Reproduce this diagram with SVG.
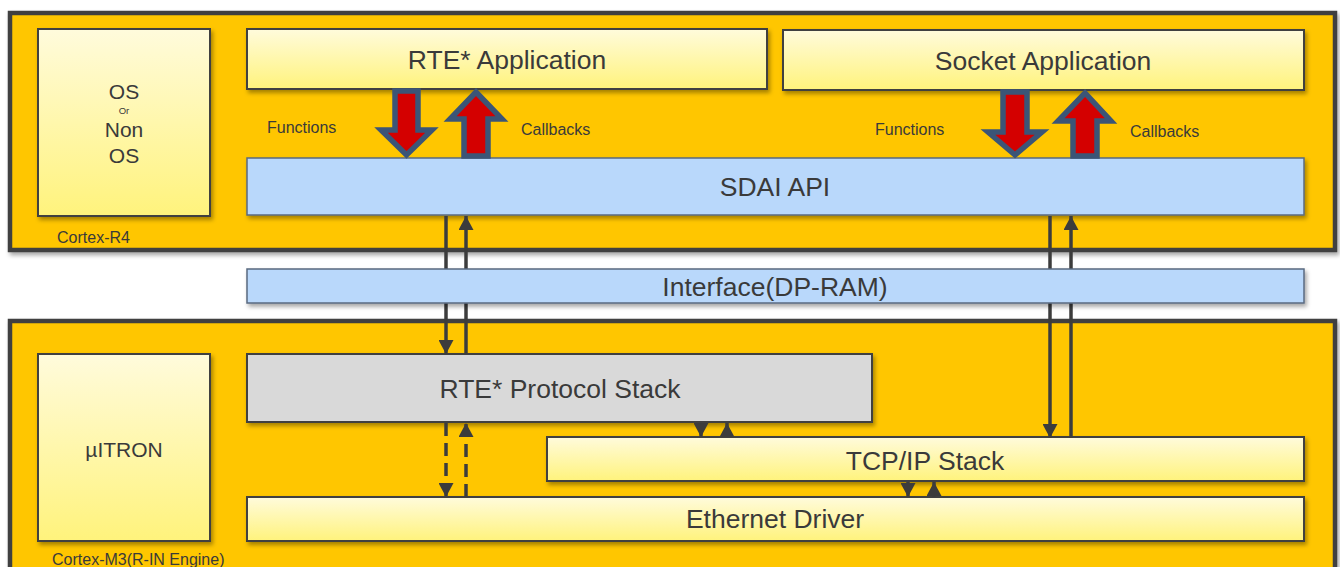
<svg xmlns="http://www.w3.org/2000/svg" width="1340" height="567" viewBox="0 0 1340 567">
<defs>
<linearGradient id="gy" x1="0" y1="0" x2="0" y2="1"><stop offset="0" stop-color="#fffbdc"/><stop offset="1" stop-color="#fff37c"/></linearGradient>
<filter id="sh" x="-5%" y="-20%" width="110%" height="150%"><feDropShadow dx="2" dy="3" stdDeviation="2" flood-color="#000" flood-opacity="0.35"/></filter>
<marker id="ah" viewBox="0 0 14 15" refX="14" refY="7.5" markerWidth="14" markerHeight="15" markerUnits="userSpaceOnUse" orient="auto"><path d="M0,0 L14,7.5 L0,15 z" fill="#3c3c3c"/></marker>
<style>
.outer{fill:#ffc600;stroke:#404040;stroke-width:4.5}
.yb{fill:url(#gy);stroke:#404040;stroke-width:2;filter:url(#sh)}
.bb{fill:#b9d8fb;stroke:#5a6a80;stroke-width:1.5;filter:url(#sh)}
.gb{fill:#d9d9d9;stroke:#404040;stroke-width:2;filter:url(#sh)}
text{font-family:"Liberation Sans",Arial,sans-serif;fill:#3a3a3a}
.big{font-size:26.5px;text-anchor:middle}
.mid{font-size:21px;text-anchor:middle}
.sm{font-size:16px}
.ln{stroke:#3c3c3c;stroke-width:3.5;fill:none;marker-end:url(#ah)}
.dl{stroke:#3c3c3c;stroke-width:3.5;fill:none;stroke-dasharray:13 7;marker-end:url(#ah)}
.fat{fill:#d40000;stroke:#3b5577;stroke-width:5.5;stroke-linejoin:miter}
</style>
</defs>
<rect width="1340" height="567" fill="#ffffff"/>
<g id="cortex-r4">
<rect class="outer" x="10" y="13" width="1325" height="237" filter="url(#sh)"/>
<text class="sm" x="57" y="243">Cortex-R4</text>
</g>
<g id="cortex-m3">
<rect class="outer" x="10" y="321" width="1325" height="260" filter="url(#sh)"/>
<text class="sm" x="52" y="565">Cortex-M3(R-IN Engine)</text>
</g>
<g id="os">
<rect class="yb" x="38" y="29" width="172" height="187"/>
<text class="mid" x="124" y="99">OS</text>
<text x="124" y="114" style="font-size:9.5px;text-anchor:middle">Or</text>
<text class="mid" x="124" y="137">Non</text>
<text class="mid" x="124" y="163">OS</text>
</g>
<g id="rte-app">
<rect class="yb" x="247" y="29" width="520" height="60"/>
<text class="big" x="507" y="69">RTE* Application</text>
</g>
<g id="socket-app">
<rect class="yb" x="783" y="30" width="521" height="60"/>
<text class="big" x="1043" y="70">Socket Application</text>
</g>
<g id="sdai">
<rect class="bb" x="247" y="158" width="1057" height="57"/>
<text class="big" x="775" y="196">SDAI API</text>
</g>
<g id="uitron">
<rect class="yb" x="38" y="354" width="172" height="187"/>
<text class="mid" x="124" y="457">µITRON</text>
</g>
<g id="rte-stack">
<rect class="gb" x="247" y="354" width="625" height="68"/>
<text class="big" x="560" y="398">RTE* Protocol Stack</text>
</g>
<g id="tcpip">
<rect class="yb" x="547" y="437" width="757" height="44"/>
<text class="big" x="925" y="470">TCP/IP Stack</text>
</g>
<g id="ethernet">
<rect class="yb" x="247" y="497" width="1057" height="44"/>
<text class="big" x="775" y="528">Ethernet Driver</text>
</g>
<g id="api-arrows">
<polygon class="fat" points="395,91 418,91 418,130 432,130 406.5,155 381,130 395,130"/>
<polygon class="fat" points="464,156 488,156 488,119 502,119 476,92 450,119 464,119"/>
<polygon class="fat" points="1003,92 1027,92 1027,132 1042,132 1015,155 988,132 1003,132"/>
<polygon class="fat" points="1073,156 1097,156 1097,121 1111,121 1085,93 1058,121 1073,121"/>
<text class="sm" x="267" y="133">Functions</text>
<text class="sm" x="521" y="135">Callbacks</text>
<text class="sm" x="875" y="135">Functions</text>
<text class="sm" x="1130" y="137">Callbacks</text>
</g>
<g id="connectors">
<line class="ln" x1="446" y1="216" x2="446" y2="354"/>
<line class="ln" x1="466" y1="354" x2="466" y2="216"/>
<line class="ln" x1="1050" y1="216" x2="1050" y2="438"/>
<line class="ln" x1="1071" y1="438" x2="1071" y2="216"/>
<line class="dl" x1="446" y1="423" x2="446" y2="497"/>
<line class="dl" x1="466" y1="497" x2="466" y2="423"/>
<line class="ln" x1="701" y1="423" x2="701" y2="437"/>
<line class="ln" x1="727" y1="437" x2="727" y2="423"/>
<line class="ln" x1="908" y1="482" x2="908" y2="497"/>
<line class="ln" x1="934" y1="497" x2="934" y2="482"/>
</g>
<g id="interface">
<rect class="bb" x="247" y="269" width="1057" height="34"/>
<text class="big" x="775" y="296">Interface(DP-RAM)</text>
</g>
</svg>
